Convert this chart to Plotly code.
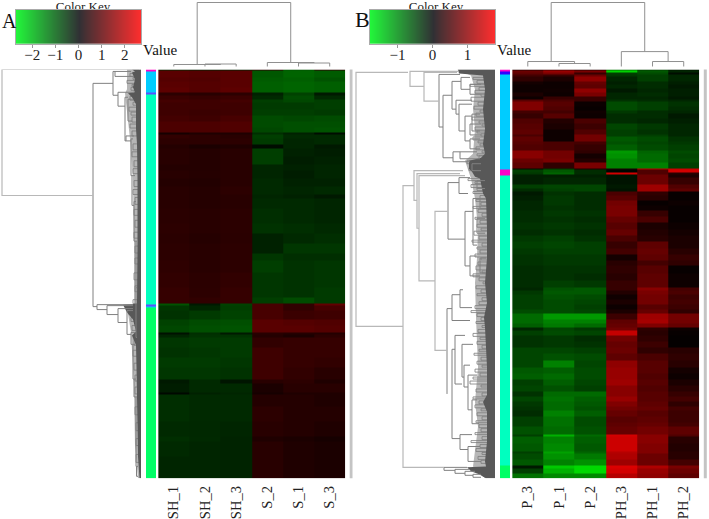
import plotly.graph_objects as go

W, H = 709, 519
SERIF = "Liberation Serif"

# ---------- panel A data ----------
A_cols = ["SH_1", "SH_2", "SH_3", "S_2", "S_1", "S_3"]
A_edges = [0,1,8,12,18,23,26,30,33,40,46,52,58,63,66,70,76,80,88,96,102,110,118,126,130,140,155,165,175,185,192,205,220,230,236,238,243,252,258,265,267,270,280,290,300,312,316,326,328,340,355,370,375,390,412]
A_z = [
 [-.5,-.4,-.4,.5,-1.0,.5],[1.0,.95,1.0,-1.05,-1.2,-1.1],[.95,.9,1.0,-1.1,-1.15,-1.0],[1.0,.95,1.0,-1.15,-1.2,-1.15],
 [1.05,.95,1.05,-1.15,-1.2,-1.15],[.5,.45,.5,-.4,-.8,-.3],[.65,.6,.65,-.5,-.9,-.5],[.75,.7,.75,-.75,-.85,-.75],
 [.7,.7,.7,-.7,-.7,-.75],[.7,.65,.7,-.75,-.75,-.7],[.75,.7,.8,-.9,-.85,-.9],[.85,.85,.9,-.9,-.95,-.95],
 [.85,.85,.9,-.85,-.95,-1.0],[.25,.35,.35,-.55,-.4,-.15],[.55,.5,.45,-.75,-.5,-.5],[.5,.5,.5,-.7,-.45,-.5],
 [.4,.3,.35,-.15,-.45,-.3],[.45,.4,.45,-.75,-.4,-.35],[.45,.4,.45,-.75,-.35,-.4],[.4,.4,.45,-.45,-.4,-.45],
 [.45,.42,.45,-.45,-.35,-.45],[.4,.38,.45,-.5,-.4,-.4],[.45,.42,.5,-.5,-.45,-.5],[.45,.42,.45,-.45,-.4,-.3],
 [.45,.42,.45,-.5,-.5,-.45],[.47,.45,.48,-.55,-.5,-.45],[.5,.45,.48,-.6,-.55,-.5],[.47,.42,.47,-.4,-.5,-.55],
 [.5,.45,.5,-.4,-.65,-.65],[.5,.45,.5,-.65,-.55,-.55],[.52,.45,.5,-.75,-.6,-.65],[.55,.48,.55,-.65,-.6,-.65],
 [.6,.5,.6,-.65,-.6,-.7],[.6,.55,.6,-.75,-.9,-.7],[-1.0,-.3,-.8,.8,.55,1.1],[-.65,-.45,-.75,.8,.55,.8],
 [-.6,-.7,-.8,.8,.65,.7],[-.8,-.9,-.95,1.0,.95,.9],[-.85,-.95,-1.0,1.0,1.0,.95],[-.2,-.55,-.3,.45,.4,.4],
 [-.45,-.6,-.6,.4,.3,.5],[-.65,-.7,-.7,.55,.6,.6],[-.6,-.65,-.7,.7,.6,.6],[-.7,-.7,-.65,.7,.6,.55],
 [-.65,-.65,-.6,.7,.55,.45],[-.3,-.5,-.25,.45,.5,.35],[-.35,-.5,-.5,.3,.45,.45],[-.1,-.4,-.45,.25,.35,.35],
 [-.55,-.5,-.5,.4,.4,.35],[-.55,-.5,-.5,.5,.4,.4],[-.5,-.48,-.45,.45,.4,.35],[-.55,-.5,-.42,.35,.3,.25],
 [-.5,-.45,-.42,.45,.35,.3],[-.45,-.45,-.42,.45,.35,.3],
]
A_strip_edges = [0,2,23,25,237,239,240,412]
A_strip_class = [0,1,3,2,3,1,4]
A_key_ticks = [-2,-1,0,1,2]
A_key_values = [-2.7,-2.4,-2.1,-1.8,-1.5,-1.2,-.9,-.6,-.3,0,.3,.6,.9,1.2,1.5,1.8,2.1,2.4,2.7]

# column dendrogram: merge height, two positions, two child heights
A_col_h  = [65.5,3,3.5,5,4.5]
A_col_c1 = [.75,0,1,3,4]
A_col_c2 = [3.75,1.5,2,4.5,5]
A_col_k1 = [3,1,1,1,1]
A_col_k2 = [5,3.5,1,4.5,1]

# row dendrogram: merge height, two rows, two child heights
A_row_h  = [139,48,28,26,23,16,13,15,10,9,7,5,5,44,34,23,14,10,8,7,5,4.5]
A_row_r1 = [0,14,2,2,23,28,30,67,70,107,133,173,220,237,238,241,243,265,277,312,330,400]
A_row_r2 = [127,239,26,7,37,72,52,72,107,137,173,220,270,242,247,255,267,277,312,330,400,410]
A_row_k1 = [2,28,26,10,8,13,8,7,8,6,5,4,4,8,8,8,8,6,6,5,4,3]
A_row_k2 = [48,44,23,8,16,15,9,10,9,7,5,5,4,34,23,14,10,8,7,5,4,3]
A_fine_r = [4,8,11,15,18,21,27,33,38,43,48,55,62,75,83,92,100,112,121,129,141,152,164,178,190,205,218,232,244,250,258,272,283,296,308,320,340,356,372,388]
A_fine_s = [3,2,3,2,3,2,4,3,4,3,5,4,5,6,5,6,5,6,5,7,6,7,6,7,6,7,6,4,3,4,5,6,6,7,6,7,8,8,7,8]
A_fine_h = [11,8,14,9,10,7,11,8,12,10,9,11,9,8,9,7,8,7,8,6,7,6,7,6,6,7,6,8,12,10,9,7,8,7,6,6,6,5,5,5]
A_band_r = [0,2,3,10,18,23,24,28,35,60,75,110,170,236,237,245,252,264,268,278,300,340,390,412]
A_band_h = [9,6,9,6,8,6,13,9,5,5,4,3.5,3.5,4,18,14,8,5,9,5,4.5,4,3,1.5]
A_haze_r = [0,20,24,40,70,110,170,236,240,265,280,320,380,412]
A_haze_h = [14,14,16,14,11,8,7,7,14,10,9,7,6,3]

# ---------- panel B data ----------
B_cols = ["P_3", "P_1", "P_2", "PH_3", "PH_1", "PH_2"]
B_edges = [0,1,3,5,7,12,15,19,23,27,30,32,37,41,44,49,54,60,65,68,73,76,82,85,90,94,100,101,104,106,109,116,120,123,127,132,137,142,148,154,161,167,173,180,186,192,198,206,213,220,223,227,232,237,242,246,252,256,260,263,268,274,280,286,293,300,306,312,318,324,330,335,340,344,350,356,360,368,370,377,385,387,393,399,402,407,412]
B_z = [
 [.3,.5,.3,-.9,-.5,-.2],[.8,1.1,.9,-1.5,-.7,-.3],[.7,.9,.4,-.5,-.6,-.1],[.5,.4,.8,-.45,-.5,-.3],[.35,.2,1.05,-.3,-.5,-.3],
 [.15,.1,.75,-.25,-.35,-.25],[.1,.1,.7,-.3,-.35,-.2],[.1,.12,1.05,-.2,-.3,-.25],[.2,.1,.9,-.3,-.35,-.25],[.1,.4,.4,-.3,-.3,-.2],
 [.65,.55,.4,-.4,-.35,-.3],[.95,.65,.08,-.6,-.5,-.4],[.95,.6,.05,-.6,-.5,-.35],[.5,.5,.12,-.45,-.35,-.3],[.4,.65,.1,-.35,-.35,-.2],
 [.6,.25,.55,-.35,-.3,-.25],[.65,.2,.45,-.55,-.45,-.3],[.7,.1,.6,-.5,-.4,-.3],[.55,.1,.85,-.5,-.5,-.3],[.7,.1,.85,-.7,-.6,-.4],
 [.65,.55,.5,-.65,-.55,-.45],[.6,.55,.4,-.75,-.6,-.5],[1.0,.85,.35,-1.15,-.8,-.6],[1.0,.85,.15,-1.1,-.85,-.55],[.8,.9,.25,-1.0,-.85,-.6],
 [.7,.35,.9,-1.0,-1.0,-.5],[-.1,-.4,.2,.2,1.3,1.4],[-.5,-.7,-.35,-.05,.6,1.5],[-.45,-.8,-.35,1.5,.6,.3],[-.25,-.25,-.25,-.15,.8,.2],
 [-.25,-.3,-.3,-.15,.8,.4],[-.5,-.55,-.55,-.2,1.15,.6],[-.35,-.5,-.55,-.15,1.15,.7],[-.2,-.4,-.35,.55,.35,.05],[-.25,-.45,-.35,.65,.3,.05],
 [-.3,-.45,-.35,.85,.05,.1],[-.3,-.4,-.35,.9,.1,.05],[-.35,-.45,-.4,.9,.4,.05],[-.35,-.4,-.35,.75,.55,.05],[-.4,-.45,-.4,.65,.2,.1],
 [-.35,-.4,-.35,.75,.25,.15],[-.45,-.5,-.4,.55,.3,.2],[-.5,-.55,-.5,.4,.7,.2],[-.45,-.5,-.5,.5,.75,.3],[-.4,-.45,-.45,.15,.7,.4],
 [-.4,-.45,-.45,.3,.5,.35],[-.35,-.4,-.4,.35,.65,.05],[-.35,-.4,-.35,.3,.7,.1],[-.35,-.5,-.45,.4,.7,.1],[-.3,-.65,-.7,.4,1.0,.5],
 [-.45,-.7,-.7,.25,.9,.55],[-.5,-.65,-.6,.12,.85,.45],[-.5,-.6,-.55,.2,.85,.5],[-.5,-.6,-.5,.1,.65,.45],[-.6,-.6,-.55,.2,.75,.35],
 [-.85,-1.15,-1.15,.45,1.15,.85],[-.85,-1.0,-1.0,.7,1.2,.85],[-.75,-.95,-.85,.75,.95,.75],[-.3,-.55,-.45,.85,.35,.1],[-.5,-.6,-.55,1.4,.3,.05],
 [-.4,-.45,-.35,.85,.35,.03],[-.4,-.45,-.4,.75,.45,.03],[-.55,-.55,-.5,.8,.35,.3],[-.55,-.65,-.6,.7,.55,.35],[-.55,-1.0,-.55,1.05,.65,.3],
 [-.7,-.75,-.6,1.1,.65,.15],[-.75,-.85,-.6,1.1,.6,.1],[-.5,-.75,-.55,1.15,.65,.2],[-.55,-.65,-.5,1.0,.6,.3],[-.4,-.85,-.85,1.0,.65,.4],
 [-.55,-.9,-.75,1.1,.65,.5],[-.45,-.85,-.7,.95,.7,.35],[-.4,-.85,-.65,.85,.75,.5],[-.35,-1.0,-.75,.75,.65,.45],[-.5,-.9,-.6,.65,.7,.45],
 [-.5,-.9,-.6,.7,.75,.5],[-.65,-.85,-.65,.75,.85,.7],[-.5,-1.3,-.85,1.5,1.0,.6],[-.75,-1.0,-.75,1.45,1.0,.3],[-.7,-1.05,-.7,1.45,.95,.25],
 [-.5,-1.2,-.8,1.3,.95,.3],[-.6,-1.1,-.95,1.25,.8,.3],[-.7,-1.0,-1.1,1.15,.8,.5],[-.2,-1.45,-1.55,1.55,1.25,.9],[-.5,-1.3,-1.55,1.5,1.1,.8],
 [-.9,-1.05,-1.05,1.3,1.05,.7],
]
B_strip_edges = [0,2,5,101,107,399,412]
B_strip_class = [0,5,1,0,2,4]
B_key_ticks = [-1,0,1]
B_key_values = [-1.79,-1.6,-1.4,-1.2,-1.0,-.8,-.6,-.4,-.2,0,.2,.4,.6,.8,1.0,1.2,1.4,1.6,1.79]

B_col_h  = [65.5,6,4,16,6]
B_col_c1 = [.75,0,1,3,4]
B_col_c2 = [3.75,1.5,2,4.5,5]
B_col_k1 = [6,1,1,1,1]
B_col_k2 = [16,4,1,6,1]

B_row_h  = [139,85,71,56,52,43,34,39,36,30,23,25,42,35,92,81,78,76,60,47,36,30,22,25,48,43,35,43,40,33,31,27,23,35,27,51,40,30,22,18,15,18,15,25,25,23]
B_row_r1 = [3,2,3,5,26,12,8,31,35,47,45,70,83,83,117,102,105,107,143,114,109,143,130,188,241,227,222,282,268,277,298,308,333,368,380,401,403,405,408,112,130,150,190,15,55,95]
B_row_r2 = [259,17,32,58,89,40,20,45,62,72,62,80,93,90,401,132,160,213,283,171,125,198,177,208,327,253,240,372,317,310,320,343,357,383,395,404,407,409,411,120,140,165,205,25,66,102]
B_row_k1 = [87,37,38,35,43,34,25,23,23,23,15,15,35,18,81,32,35,30,47,36,25,22,15,18,43,35,32,40,30,22,25,18,18,23,15,28,26,20,14,10,9,10,9,14,14,14]
B_row_k2 = [92,71,56,52,42,39,25,36,30,25,15,15,25,15,51,78,76,60,48,30,27,25,18,15,48,25,23,35,33,31,27,23,16,27,14,40,30,22,14,10,9,10,9,14,14,14]
B_fine_r = [8,11,15,18,21,25,28,33,37,41,44,48,52,55,58,62,65,68,72,75,78,82,85,87,92,96,99,110,113,116,119,123,127,131,134,138,141,145,149,152,156,160,163,168,172,175,179,182,186,190,194,198,203,206,210,214,218,222,226,230,234,238,243,246,250,254,258,262,266,270,274,278,282,286,290,294,298,302,306,310,314,318,322,326,330,334,338,342,346,350,354,358,362,366,370,374,378,382,386,390,394,402,405,408]
B_fine_s = [2,3,2,3,3,2,4,3,3,2,3,3,2,2,3,2,2,3,2,2,3,2,2,3,3,2,3,2,2,3,3,2,3,2,3,2,3,3,2,3,3,2,4,3,2,3,2,3,3,2,3,4,2,3,3,2,3,3,2,3,3,3,2,3,3,2,2,3,3,2,3,3,2,2,3,3,2,3,3,2,3,2,3,3,2,3,3,2,3,3,2,3,3,2,3,2,3,3,2,3,3,2,2,2]
B_fine_h = [22,18,25,16,20,14,24,17,21,15,19,23,16,13,20,18,14,22,17,15,19,13,18,16,28,22,26,27,20,24,18,22,15,19,14,22,17,13,20,15,18,14,21,16,23,13,18,15,20,14,17,19,13,22,16,12,19,14,18,13,16,20,24,18,14,19,13,17,22,15,18,13,16,21,14,18,13,20,15,22,25,14,19,13,22,16,20,14,18,13,19,16,14,20,13,24,15,19,13,17,14,22,16,12]
B_band_r = [0,4,6,20,40,60,75,85,89,92,100,103,108,110,125,130,160,190,215,235,250,260,300,328,335,345,360,375,395,400,401,405,408,412]
B_band_h = [37,36,12,10,12,10,12,10,14,26,26,23,20,15,12,9,8,8,10,8,11,10,8,8,12,8,8,8,10,9,28,24,16,9]
B_haze_r = [0,6,20,40,60,85,92,110,130,160,190,215,250,300,335,360,400,412]
B_haze_h = [38,24,20,22,20,22,30,24,20,17,18,20,19,17,20,17,22,10]

STRIP_COLORS = ["#FF00C8", "#00CCFF", "#00FFBF", "#5A50FF", "#00FF66", "#3000FF"]
HEAT_SCALE = [[0, "#00FF00"], [.25, "#007000"], [.5, "#000000"], [.75, "#780000"], [1, "#FF0000"]]
KEY_SCALE = [[0, "#22F53A"], [.5, "#303034"], [1, "#FF2E2E"]]
LINE_LIGHT, LINE_MID, LINE_FINE, LINE_BAND, LINE_HAZE = "#b8b8b8", "#808080", "#7c7c7c", "#585858", "#b6b6b6"

fig = go.Figure()
layout = {}
axn = [1]


def dom(x0, x1, y0, y1):
    return [x0 / W, x1 / W], [1 - y1 / H, 1 - y0 / H]


def new_axes(box, xr, yr, xkw=None, ykw=None):
    n = axn[0]
    axn[0] += 1
    xd, yd = dom(*box)
    sfx = "" if n == 1 else str(n)
    base = dict(showgrid=False, zeroline=False, showticklabels=False, ticks="", fixedrange=True)
    layout["xaxis" + sfx] = {**base, "domain": xd, "range": xr, "anchor": "y" + sfx, **(xkw or {})}
    layout["yaxis" + sfx] = {**base, "domain": yd, "range": yr, "anchor": "x" + sfx, **(ykw or {})}
    return "x" + sfx, "y" + sfx


def elbows(h, a1, a2, k1, k2):
    hs, ps = [], []
    for v, p, q, c1, c2 in zip(h, a1, a2, k1, k2):
        hs += [c1, v, v, c2, None]
        ps += [p, p, q, q, None]
    return hs, ps


def line(x, y, xa, ya, color, width):
    fig.add_trace(go.Scatter(x=x, y=y, xaxis=xa, yaxis=ya, mode="lines", hoverinfo="skip",
                             line=dict(color=color, width=width), showlegend=False))


def area(rows, hs, xa, ya, color):
    fig.add_trace(go.Scatter(x=hs + [0, 0], y=rows + [412, 0], xaxis=xa, yaxis=ya, mode="lines", fill="toself",
                             fillcolor=color, line=dict(width=0), hoverinfo="skip", showlegend=False))


# page-level axes first, so the colour keys later paint over the "Color Key" text
pa, pb = new_axes((0, W, 0, H), [0, W], [H, 0], dict(visible=False), dict(visible=False))
fig.add_trace(go.Scatter(x=[83, 436], y=[7.5, 7.5], xaxis=pa, yaxis=pb, mode="text", text=["Color Key", "Color Key"],
                         textfont=dict(family=SERIF, size=13, color="#222"), cliponaxis=False,
                         hoverinfo="skip", showlegend=False))


def panel(cols, edges, z, zmax, strip_e, strip_c, key_vals, key_ticks,
          col, row, fine, band, haze, x_off, dend_l, dend_r, dend_max):
    hx0, hx1 = x_off + 158.2, x_off + 345.3
    # main heatmap
    xa, ya = new_axes((hx0, hx1, 70, 482), [-.5, 5.5], [412, 0],
                      dict(showticklabels=True, tickmode="array", tickvals=list(range(6)), ticktext=cols,
                           tickangle=-90, ticks="outside", ticklen=1, tickcolor="rgba(0,0,0,0)",
                           tickfont=dict(family=SERIF, size=14.5, color="#222")))
    fig.add_trace(go.Heatmap(z=z, x=list(range(6)), y=edges, xaxis=xa, yaxis=ya, colorscale=HEAT_SCALE,
                             zmin=-zmax, zmax=zmax, showscale=False, hoverinfo="skip"))
    # side colour strip
    xa, ya = new_axes((x_off + 146, x_off + 156, 70, 482), [0, 1], [412, 0])
    n = len(STRIP_COLORS) - 1
    scale = []
    for i, c in enumerate(STRIP_COLORS):
        scale += [[i / (n + 1), c], [(i + 1) / (n + 1), c]]
    fig.add_trace(go.Heatmap(z=[[c] for c in strip_c], x=[0, 1], y=strip_e, xaxis=xa, yaxis=ya, colorscale=scale,
                             zmin=-.5, zmax=n + .5, showscale=False, hoverinfo="skip"))
    # colour key
    xa, ya = new_axes((x_off + 16, x_off + 141, 10, 44), [-zmax, zmax], [0, 1],
                      dict(showticklabels=True, tickmode="array", tickvals=key_ticks, ticks="outside", ticklen=3,
                           tickcolor="#999", tickwidth=1, showline=True, mirror=True, linecolor="#aaa", linewidth=1,
                           ticklabelstandoff=-6, tickfont=dict(family=SERIF, size=15, color="#222")),
                      dict(showline=True, mirror=True, linecolor="#aaa", linewidth=1))
    fig.add_trace(go.Heatmap(z=[key_vals, key_vals], x=key_vals, y=[0, 1], xaxis=xa, yaxis=ya, colorscale=KEY_SCALE,
                             zmin=-zmax, zmax=zmax, zsmooth="best", showscale=False, hoverinfo="skip"))
    # column dendrogram
    xa, ya = new_axes((hx0, hx1, 2, 68), [-.5, 5.5], [0, 66])
    hs, ps = elbows(*col)
    line(ps, hs, xa, ya, "#909090", 1)
    # row dendrogram
    xa, ya = new_axes((dend_l, dend_r, 70, 482), [dend_max, 0], [412, 0])
    area(*haze, xa, ya, LINE_HAZE)
    fr, fs, fh = fine
    hs, ps = elbows(fh, fr, [r + s for r, s in zip(fr, fs)], [1] * len(fh), [1] * len(fh))
    line(hs, ps, xa, ya, LINE_FINE, .8)
    area(*band, xa, ya, LINE_BAND)
    big = [i for i, v in enumerate(row[0]) if v >= 60]
    small = [i for i, v in enumerate(row[0]) if v < 60]
    hs, ps = elbows(*[[a[i] for i in small] for a in row])
    line(hs, ps, xa, ya, LINE_MID, 1)
    hs, ps = elbows(*[[a[i] for i in big] for a in row])
    line(hs, ps, xa, ya, LINE_LIGHT, 1.2)


panel(A_cols, A_edges, A_z, 2.7, A_strip_edges, A_strip_class, A_key_values, A_key_ticks,
      (A_col_h, A_col_c1, A_col_c2, A_col_k1, A_col_k2),
      (A_row_h, A_row_r1, A_row_r2, A_row_k1, A_row_k2),
      (A_fine_r, A_fine_s, A_fine_h), (A_band_r, A_band_h), (A_haze_r, A_haze_h), 0, 0, 141, 141)
panel(B_cols, B_edges, B_z, 1.79, B_strip_edges, B_strip_class, B_key_values, B_key_ticks,
      (B_col_h, B_col_c1, B_col_c2, B_col_k1, B_col_k2),
      (B_row_h, B_row_r1, B_row_r2, B_row_k1, B_row_k2),
      (B_fine_r, B_fine_s, B_fine_h), (B_band_r, B_band_h), (B_haze_r, B_haze_h), 354, 355, 495, 140)

notes = [("A", 9, 21, 20), ("B", 362.5, 20, 22), ("Value", 160, 50.5, 15), ("Value", 514, 50.5, 15)]
annotations = [dict(text=t, x=x / W, y=1 - y / H, xref="paper", yref="paper", showarrow=False,
                    font=dict(family=SERIF, size=s, color="#111"), xanchor="center", yanchor="middle")
               for t, x, y, s in notes]
shapes = [dict(type="rect", xref="paper", yref="paper", x0=x0 / W, x1=x1 / W, y0=1 - 482 / H, y1=1 - 70 / H,
               fillcolor="#c4c4c4", line=dict(width=0))
          for x0, x1 in [(349.7, 352.5), (703.8, 706.8)]]

fig.update_layout(width=W, height=H, margin=dict(l=0, r=0, t=0, b=0), autosize=False,
                  paper_bgcolor="white", plot_bgcolor="rgba(0,0,0,0)", showlegend=False,
                  annotations=annotations, shapes=shapes, **layout)
fig.write_html("out.html", config=dict(displayModeBar=False),
               post_script="document.body.style.margin='0';document.documentElement.style.overflow='hidden';")
